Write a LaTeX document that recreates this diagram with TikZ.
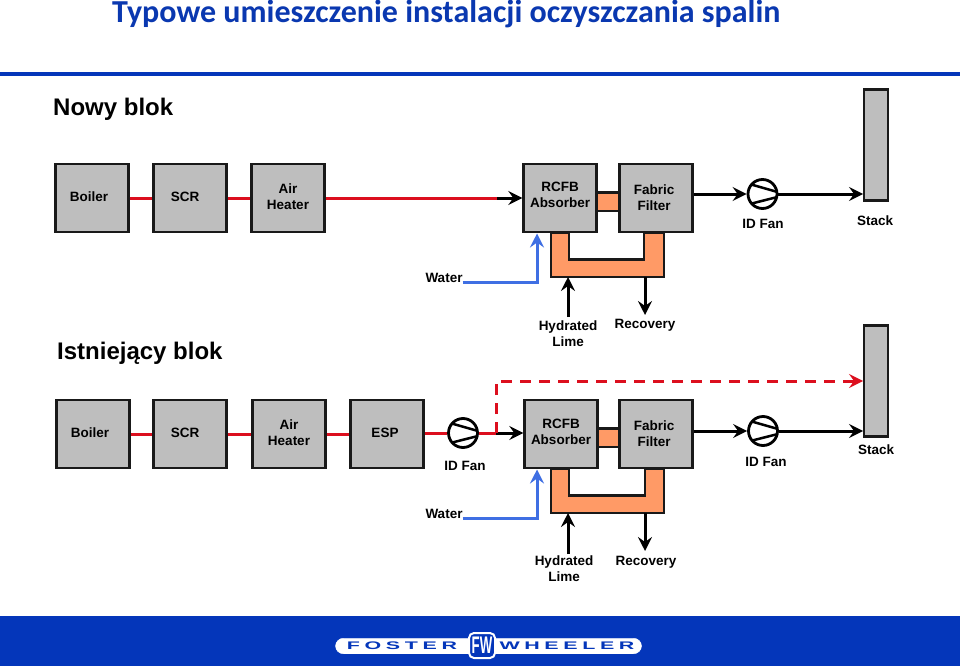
\documentclass[tikz,border=0pt]{standalone}
\usepackage{fontspec}
\setmainfont{Liberation Sans}
\newfontfamily\titlefont{Carlito}
\newfontfamily\logofont[LetterSpace=42,FakeStretch=1.95]{Liberation Sans}
\newfontfamily\fwfont[FakeStretch=0.55]{Liberation Sans}
\usetikzlibrary{arrows.meta,calc}
\definecolor{fwblue}{HTML}{0436BA}
\definecolor{gasred}{HTML}{DC0F1E}
\definecolor{wblue}{HTML}{3F6FE3}
\definecolor{duct}{HTML}{FF9A66}
\definecolor{boxgray}{HTML}{BEBEBE}
\definecolor{titleblue}{HTML}{0A38B0}
\newcommand\tx[3]{\raisebox{#2}[0pt][0pt]{\makebox[0pt][c]{\hspace*{#1}\begin{tabular}{@{}c@{}}#3\end{tabular}}}}
\tikzset{
  x=1pt,y=-1pt,
  lab/.style={font=\fontsize{13.5}{16}\selectfont\bfseries,align=center,inner sep=0pt,text=black},
  box/.style={draw=black!90,fill=boxgray,line width=2.4pt,minimum width=73pt,minimum height=68pt,inner sep=0pt,font=\fontsize{13.5}{16}\selectfont\bfseries,text=black},
  stackbox/.style={draw=black!90,fill=boxgray,line width=2.4pt,minimum width=23.5pt,minimum height=111pt,inner sep=0pt},
  fan/.style={circle,draw=black,fill=white,line width=2.8pt,minimum size=29pt,inner sep=0pt,
    path picture={
      \draw[line width=2.5pt] ([shift={(-14pt,10.3pt)}]path picture bounding box.center) -- ([shift={(15pt,2pt)}]path picture bounding box.center);
      \draw[line width=2.5pt] ([shift={(-14pt,-10.3pt)}]path picture bounding box.center) -- ([shift={(15pt,-3pt)}]path picture bounding box.center);
    }},
  redline/.style={draw=gasred,line width=3pt},
  blk/.style={draw=black,line width=3pt,-{Stealth[length=14pt,width=14pt,inset=5pt]}},
  bluearrow/.style={draw=wblue,line width=3pt,-{Stealth[length=14pt,width=14pt,inset=5pt]}},
  reddash/.style={draw=gasred,line width=3pt,dash pattern=on 11pt off 8pt,-{Stealth[length=14pt,width=14pt,inset=5pt]}},
  ductshape/.style={draw=black!90,fill=duct,line width=2.4pt},
  head/.style={font=\fontsize{24}{28}\selectfont\bfseries,inner sep=0pt,anchor=base west,text=black},
}
\begin{document}
\begin{tikzpicture}
\useasboundingbox (0,0) rectangle (960,666);
\fill[white] (0,0) rectangle (960,666);
% title and bars
\node[font=\titlefont\fontsize{32}{36}\selectfont\bfseries,text=titleblue,inner sep=0pt,anchor=base west] (title) at (112,23) {Typowe umieszczenie instalacji oczyszczania spalin};
\fill[fwblue] (0,72) rectangle (960,76.5);
\fill[fwblue] (0,616) rectangle (960,666);
\node[head] (h1) at (53,115) {Nowy blok};
\node[head] (h2) at (57,359) {Istniejący blok};
% ducts, top
\path[ductshape] (597,192.5) -- (619,192.5) -- (619,211) -- (597,211) -- cycle;
\path[ductshape] (551,233) -- (551,277) -- (664,277) -- (664,233) -- (644,233) -- (644,259.5) -- (569,259.5) -- (569,233) -- cycle;
% ducts, bottom
\path[ductshape] (598,428.5) -- (619,428.5) -- (619,447) -- (598,447) -- cycle;
\path[ductshape] (551,469) -- (551,513) -- (664,513) -- (664,469) -- (645,469) -- (645,495.5) -- (569,495.5) -- (569,469) -- cycle;
% top row
\node[box] (boiler1) at (92,198) {\tx{-6pt}{-4pt}{Boiler}};
\node[box] (scr1) at (190,198) {\tx{-10pt}{-3.5pt}{SCR}};
\node[box] (air1) at (288,198) {\tx{0pt}{-4pt}{Air\\Heater}};
\node[box] (rcfb1) at (560,198) {\tx{0pt}{-2pt}{RCFB\\Absorber}};
\node[box] (ff1) at (656,198) {\tx{-4pt}{-5pt}{Fabric\\Filter}};
\node[stackbox] (stack1) at (876,145) {};
\node[fan] (fan1) at (762.5,194) {};
\node[lab] (idl1) at (763,224) {ID Fan};
\node[lab] (stl1) at (875,221) {Stack};
\node[lab] (wat1) at (444,278) {Water};
\node[lab] (hyd1) at (568,333.5) {Hydrated\\Lime};
\node[lab] (rec1) at (645,325.5) {Recovery};
% bottom row
\node[box] (boiler2) at (93,434) {\tx{-6pt}{-4pt}{Boiler}};
\node[box] (scr2) at (190,434) {\tx{-10pt}{-3.5pt}{SCR}};
\node[box] (air2) at (289,434) {\tx{0pt}{-4pt}{Air\\Heater}};
\node[box] (esp2) at (387,434) {\tx{-4pt}{-4pt}{ESP}};
\node[box] (rcfb2) at (561,434) {\tx{0pt}{-3pt}{RCFB\\Absorber}};
\node[box] (ff2) at (656,434) {\tx{-4pt}{-5pt}{Fabric\\Filter}};
\node[stackbox] (stack2) at (876,381) {};
\node[fan] (fan2) at (463,433) {};
\node[fan] (fan3) at (763,431) {};
\node[lab] (idl2) at (465,466) {ID Fan};
\node[lab] (idl3) at (766,462) {ID Fan};
\node[lab] (stl2) at (876,450) {Stack};
\node[lab] (wat2) at (444,514) {Water};
\node[lab] (hyd2) at (564,569) {Hydrated\\Lime};
\node[lab] (rec2) at (646,562.5) {Recovery};
% helper coordinates
\coordinate (split1) at (497,197);
\coordinate (split2) at (496,433);
\coordinate (hyda1) at (568,317);
\coordinate (reca1) at (645,315);
\coordinate (duct1a) at (568,277);
\coordinate (duct1b) at (645,277);
\coordinate (hyda2) at (568,554);
\coordinate (reca2) at (645,551);
\coordinate (duct2a) at (568,513);
\coordinate (duct2b) at (645,513);
\coordinate (wend1) at (537,233.5);
\coordinate (wend2) at (537,469.5);
% connectors top
\draw[redline] (boiler1.east) -- (scr1.west);
\draw[redline] (scr1.east) -- (air1.west);
\draw[redline] (air1.east) -- (air1.east -| split1);
\draw[blk] (air1.east -| split1) -- (rcfb1.west);
\draw[blk] (ff1.east |- fan1) -- (fan1.west);
\draw[blk] (fan1.east) -- (stack1.west |- fan1);
\draw[bluearrow] (wat1.east |- 0,282) -- (537,282) -- (wend1);
\draw[blk] (hyda1) -- (duct1a);
\draw[blk] (duct1b) -- (reca1);
% connectors bottom
\draw[redline] (boiler2.east) -- (scr2.west);
\draw[redline] (scr2.east) -- (air2.west);
\draw[redline] (air2.east) -- (esp2.west);
\draw[redline] (esp2.east |- fan2) -- (fan2.west);
\draw[redline] (fan2.east) -- (split2);
\draw[blk] (split2) -- (split2 -| rcfb2.west);
\draw[reddash] (split2) -- (496,381) -- (stack2.west |- 0,381);
\draw[blk] (ff2.east |- fan3) -- (fan3.west);
\draw[blk] (fan3.east) -- (stack2.west |- fan3);
\draw[bluearrow] (wat2.east |- 0,518) -- (537,518) -- (wend2);
\draw[blk] (hyda2) -- (duct2a);
\draw[blk] (duct2b) -- (reca2);
% logo
\node[fill=white,draw=white,rounded corners=8pt,minimum width=306pt,minimum height=15.5pt,inner sep=0pt] (logobar) at (488.5,646) {};
\node[font=\logofont\fontsize{11}{11}\selectfont\bfseries,text=fwblue,inner sep=0pt] (foster) at (402,646) {FOSTER};
\node[font=\logofont\fontsize{11}{11}\selectfont\bfseries,text=fwblue,inner sep=0pt] (wheeler) at (567,646) {WHEELER};
\node[fill=fwblue,draw=white,line width=2pt,rounded corners=5pt,minimum width=26pt,minimum height=25pt,inner sep=0pt,text=white,font=\fwfont\fontsize{24}{24}\selectfont\bfseries] (shield) at (482,645.5) {FW};
\end{tikzpicture}
\end{document}
